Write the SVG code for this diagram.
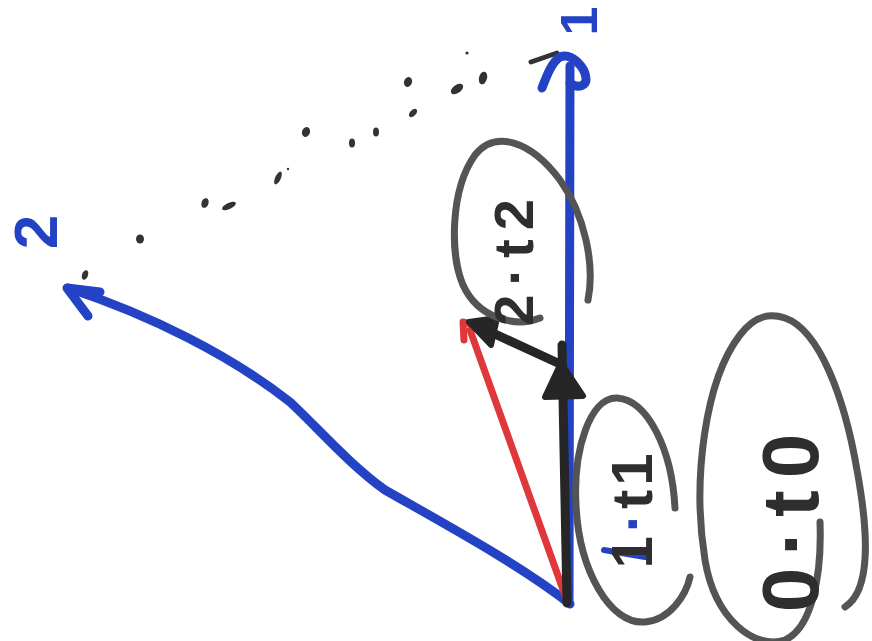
<svg xmlns="http://www.w3.org/2000/svg" width="872" height="641" viewBox="0 0 872 641">
<style>
.txt{font-family:"Liberation Sans",Arial,sans-serif;font-weight:bold;text-anchor:middle}
.ink{fill:#2e2e2e}
.blue{fill:#2342c4}
.ell{fill:none;stroke:#545454;stroke-width:7;stroke-linecap:round}
.vb{fill:none;stroke:#2342c4;stroke-width:9;stroke-linecap:round;stroke-linejoin:round}
.vr{fill:none;stroke:#e0383a;stroke-width:7;stroke-linecap:round;stroke-linejoin:round}
.vk{fill:none;stroke:#262626;stroke-width:9;stroke-linecap:round;stroke-linejoin:round}
.head{fill:#262626;stroke:#262626;stroke-width:6;stroke-linejoin:round}
.dot{fill:#333}
</style>
<rect width="872" height="641" fill="#fff"/>

<g id="connectors">
  <g id="dotted">
    <ellipse class="dot" cx="85" cy="275" rx="3" ry="5" transform="rotate(20 85 275)"/>
    <ellipse class="dot" cx="140" cy="239" rx="4" ry="4.5"/>
    <ellipse class="dot" cx="205" cy="203" rx="3.5" ry="5" transform="rotate(20 205 203)"/>
    <ellipse class="dot" cx="229" cy="206" rx="7.5" ry="3" transform="rotate(-25 229 206)"/>
    <ellipse class="dot" cx="278" cy="178" rx="2.8" ry="7" transform="rotate(25 278 178)"/>
    <circle class="dot" cx="288" cy="169" r="1.2"/>
    <ellipse class="dot" cx="306" cy="132" rx="4" ry="5" transform="rotate(20 306 132)"/>
    <ellipse class="dot" cx="352" cy="143" rx="3" ry="4.5"/>
    <ellipse class="dot" cx="376" cy="132" rx="3" ry="4.5"/>
    <ellipse class="dot" cx="408" cy="82" rx="4" ry="5" transform="rotate(20 408 82)"/>
    <ellipse class="dot" cx="413" cy="113" rx="3" ry="5" transform="rotate(45 413 113)"/>
    <ellipse class="dot" cx="457" cy="89" rx="4" ry="7" transform="rotate(55 457 89)"/>
    <ellipse class="dot" cx="483" cy="78" rx="4" ry="6.5" transform="rotate(15 483 78)"/>
    <circle class="dot" cx="467" cy="53" r="1.6"/>
    <path d="M531,62 L557,53" fill="none" stroke="#333" stroke-width="5" stroke-linecap="round"/>
  </g>
  <path class="vb" d="M570,604 C520,565 450,527 385,490 C350,465 320,430 290,402 C230,355 150,315 68,288"/>
  <path class="vb" d="M100,292 L67,288 L88,316"/>
  <path class="vb" d="M569,602 L570,66"/>
  <path class="vb" d="M542,88 C547,75 552,62 560,57 C572,52 585,68 586,78 C587,86 578,89 570,83"/>
  <path class="vr" d="M566,598 L470,330"/>
  <path class="vr" d="M464,340 L463,322 L478,326"/>
  <path class="vk" d="M567,603 L562,345"/>
  <path class="head" d="M561,363 L583,396 L545,397 Z"/>
  <path class="vk" d="M560,364 L482,328" stroke-width="7"/>
  <path class="head" d="M469,322 L497,318 L491,345 Z"/>
</g>

<g id="label-1">
  <text class="txt blue" font-size="52" transform="translate(597,21) rotate(-90)">1</text>
</g>
<g id="label-2">
  <text class="txt blue" font-size="62" transform="translate(57,232) rotate(-90)">2</text>
</g>

<g id="node-2t2">
  <path class="ell" d="M540,318 C515,328 478,318 463,285 C450,255 450,190 475,155 C495,130 530,140 560,180 C585,215 595,265 588,300"/>
  <text class="txt ink" font-size="56" letter-spacing="9" transform="translate(533,258) rotate(-90)">2·t2</text>
</g>

<g id="node-1t1">
  <path class="ell" d="M675,508 C672,450 648,400 617,398 C590,397 573,450 576,505 C579,570 610,625 645,622 C670,620 686,595 690,577"/>
  <path d="M604,550 L645,557" fill="none" stroke="#2342c4" stroke-width="6" stroke-linecap="round"/>
  <text class="txt ink" font-size="58" letter-spacing="4" transform="translate(652,509) rotate(-90)">1<tspan class="blue">·</tspan>t1</text>
</g>

<g id="node-0t0">
  <path class="ell" d="M820,522 C822,575 812,628 785,640 C755,650 715,620 705,560 C692,480 705,380 740,335 C755,315 770,313 785,318 C820,330 845,400 857,470 C868,530 872,590 845,607"/>
  <text class="txt ink" font-size="80" letter-spacing="12" transform="translate(818,517) rotate(-90)">0·t0</text>
</g>
</svg>
